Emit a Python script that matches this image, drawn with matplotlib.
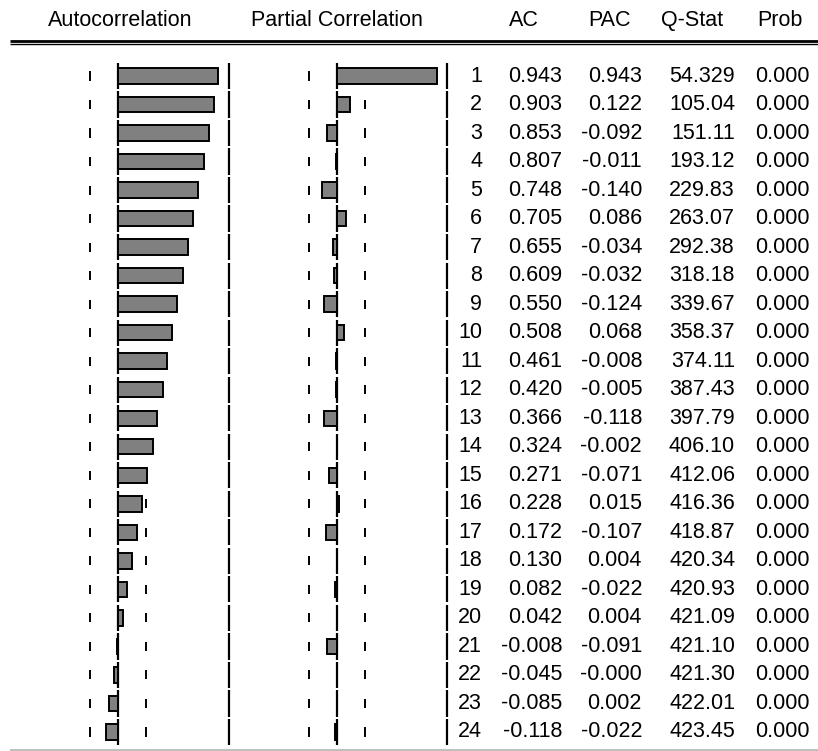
import matplotlib
matplotlib.use("Agg")
import matplotlib.pyplot as plt
import numpy as np

plt.rcParams["font.family"] = ["Liberation Sans", "DejaVu Sans"]

lags = np.arange(1, 25)
ac = [0.943, 0.903, 0.853, 0.807, 0.748, 0.705, 0.655, 0.609, 0.550, 0.508,
      0.461, 0.420, 0.366, 0.324, 0.271, 0.228, 0.172, 0.130, 0.082, 0.042,
      -0.008, -0.045, -0.085, -0.118]
pac = [0.943, 0.122, -0.092, -0.011, -0.140, 0.086, -0.034, -0.032, -0.124, 0.068,
       -0.008, -0.005, -0.118, -0.002, -0.071, 0.015, -0.107, 0.004, -0.022, 0.004,
       -0.091, -0.000, 0.002, -0.022]
pac_labels = ["0.943", "0.122", "-0.092", "-0.011", "-0.140", "0.086", "-0.034",
              "-0.032", "-0.124", "0.068", "-0.008", "-0.005", "-0.118", "-0.002",
              "-0.071", "0.015", "-0.107", "0.004", "-0.022", "0.004", "-0.091",
              "-0.000", "0.002", "-0.022"]
qstat = [54.329, 105.04, 151.11, 193.12, 229.83, 263.07, 292.38, 318.18, 339.67,
         358.37, 374.11, 387.43, 397.79, 406.10, 412.06, 416.36, 418.87, 420.34,
         420.93, 421.09, 421.10, 421.30, 422.01, 423.45]
prob = [0.000] * 24
n_obs = 58

headers = ["Autocorrelation", "Partial Correlation", "AC", "PAC", "Q-Stat", "Prob"]

W, H = 818, 751
FS = 15.5
PX = 106.0          # pixels per unit of correlation
ROW0, PITCH = 76.0, 28.52

fig = plt.figure(figsize=(W / 100, H / 100), dpi=100)
fig.patch.set_facecolor("white")


def px_axes(x0, x1, y0, y1):
    ax = fig.add_axes([x0 / W, 1 - y1 / H, (x1 - x0) / W, (y1 - y0) / H])
    ax.set_axis_off()
    ax.patch.set_alpha(0)
    return ax


# full-figure axes in pixel units for header and rules
bg = px_axes(0, W, 0, H)
bg.set_xlim(0, W)
bg.set_ylim(H, 0)

top = ROW0 - PITCH / 2
bottom = ROW0 + PITCH * 23 + PITCH / 2
bound = 2 / np.sqrt(n_obs)


def rule(ax, x, half, lw=1.6):
    ax.vlines(np.full(len(lags), x), lags - half, lags + half,
              color="black", lw=lw, zorder=3)


def correlogram(zero_px, vals):
    half = 1.12
    ax = px_axes(zero_px - half * PX, zero_px + half * PX, top, bottom)
    ax.set_xlim(-half, half)
    ax.set_ylim(24.5, 0.5)
    rule(ax, 0, 0.46)
    rule(ax, 1.04, 0.46)
    rule(ax, -bound, 0.16, lw=1.4)
    rule(ax, bound, 0.16, lw=1.4)
    ax.barh(lags, vals, height=0.54, color="#808080", edgecolor="black",
            lw=1.4, zorder=4)
    return ax


correlogram(118.3, ac)
correlogram(337.0, pac)

# table of statistics
tab = px_axes(447, W, top, bottom)
tab.set_xlim(447, W)
tab.set_ylim(24.5, 0.5)
cols = [482, 562, 642, 735, 810]
for i, lag in enumerate(lags):
    q = "%.2f" % qstat[i] if qstat[i] >= 100 else "%.3f" % qstat[i]
    row = [str(lag), "%.3f" % ac[i], pac_labels[i], q, "%.3f" % prob[i]]
    for x, s in zip(cols, row):
        tab.text(x, lag, s, ha="right", va="center", fontsize=FS)

# headers
head_x = [120, 337, 524, 609, 692, 780]
for x, s in zip(head_x, headers):
    bg.text(x, 20.5, s, ha="center", va="center", fontsize=FS)

bg.plot([10, W], [41, 41], color="black", lw=2.0, solid_capstyle="butt")
bg.plot([10, W], [44.3, 44.3], color="black", lw=1.0, solid_capstyle="butt")
bg.plot([10, W], [750, 750], color="#b4b4b4", lw=1.2, solid_capstyle="butt")

fig.savefig("out.png", dpi=100)
